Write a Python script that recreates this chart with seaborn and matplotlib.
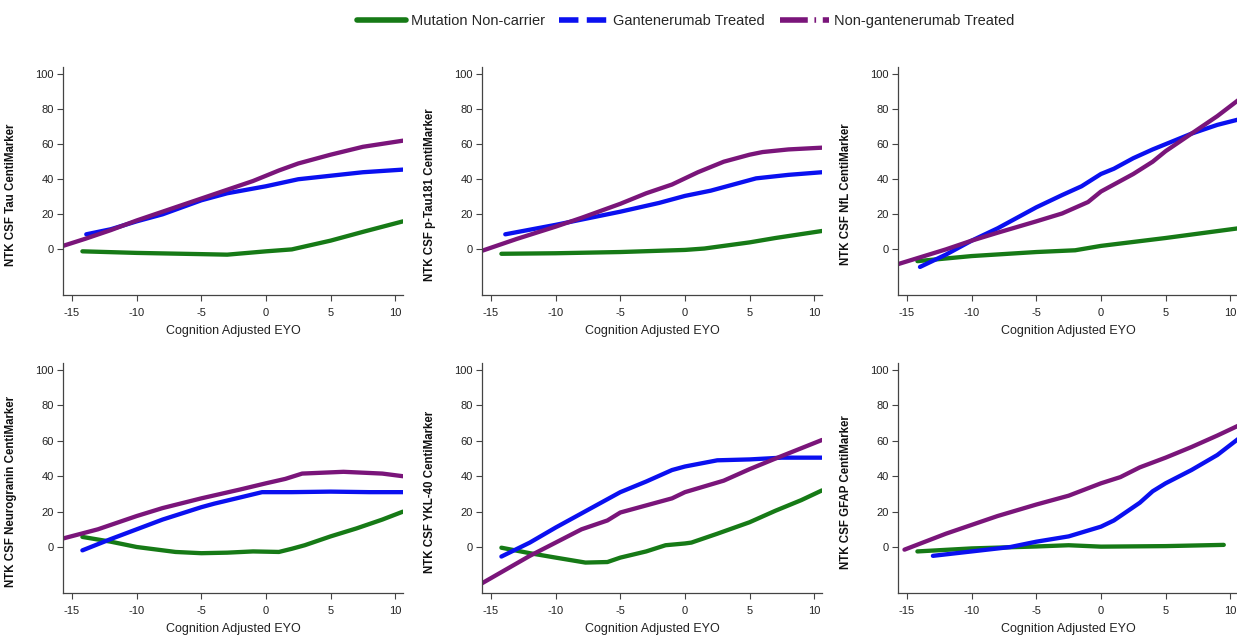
import matplotlib
matplotlib.use("Agg")
import matplotlib.pyplot as plt
from matplotlib.lines import Line2D
import seaborn as sns

sns.set_theme(style="ticks")
plt.rcParams["font.family"] = ["Liberation Sans", "DejaVu Sans"]
plt.rcParams["axes.unicode_minus"] = False  # 하이픈 형태의 마이너스

# ---- 데이터 ----
series_names = ["Mutation Non-carrier", "Gantenerumab Treated", "Non-gantenerumab Treated"]
series_colors = ["#167a16", "#0a10f0", "#7a157a"]

panel_labels = [
    "NTK CSF Tau CentiMarker",
    "NTK CSF p-Tau181 CentiMarker",
    "NTK CSF NfL CentiMarker",
    "NTK CSF Neurogranin CentiMarker",
    "NTK CSF YKL-40 CentiMarker",
    "NTK CSF GFAP CentiMarker",
]

# Tau
tau_nc_x = [-14.2, -10, -5, -3, 0, 2, 5, 7.5, 10.6]
tau_nc_y = [-1.1, -2, -2.7, -3, -1.1, 0, 5, 10, 16]
tau_gt_x = [-13.9, -12, -10, -8, -5, -3, 0, 2.5, 5, 7.5, 10.6]
tau_gt_y = [8.6, 11.5, 16, 20, 28, 32, 36, 40, 42, 44, 45.5]
tau_ng_x = [-15.7, -14, -12, -10, -8, -5, -3, -1, 0, 1, 2.5, 5, 7.5, 10.6]
tau_ng_y = [2, 6, 11, 16.5, 21.5, 29, 34, 39, 42, 45, 49, 54, 58.5, 62]

# p-Tau181
pt_nc_x = [-14.2, -10, -5, 0, 1.5, 3, 5, 7, 10.6]
pt_nc_y = [-2.5, -2.2, -1.5, -0.3, 0.5, 2, 4, 6.5, 10.5]
pt_gt_x = [-13.9, -10, -7, -5, -2, 0, 2, 4, 5.5, 8, 10.6]
pt_gt_y = [8.6, 14, 18.5, 21.5, 26.5, 30.5, 33.5, 37.5, 40.5, 42.5, 44]
pt_ng_x = [-15.7, -13, -10, -8, -5, -3, -1, 0, 1, 3, 5, 6, 8, 10.6]
pt_ng_y = [-0.8, 6, 13, 18, 26, 32, 37, 40.5, 44, 50, 54, 55.5, 57, 58]

# NfL
nfl_nc_x = [-14.2, -10, -5, -2, 0, 5, 10.6]
nfl_nc_y = [-6.7, -3.8, -1.5, -0.5, 2, 6.5, 12]
nfl_gt_x = [-14, -12, -10, -8, -5, -3, -1.5, 0, 1, 2.5, 4, 5, 7, 9, 10.6]
nfl_gt_y = [-10, -3, 5, 12, 24, 31, 36, 43, 46, 52, 57, 60, 66, 71, 74]
nfl_ng_x = [-15.7, -12, -10, -8, -5, -3, -1, 0, 2.5, 4, 5, 7, 9, 10.6]
nfl_ng_y = [-8.4, 0, 5, 9.5, 16, 20.5, 27, 33, 43, 50, 56, 66, 76, 85]

# Neurogranin
ngr_nc_x = [-14.2, -12, -10, -7, -5, -3, -1, 1, 2, 3, 5, 7, 9, 10.6]
ngr_nc_y = [5.7, 3, 0, -2.8, -3.5, -3.2, -2.5, -2.8, -1, 1, 6, 10.5, 15.5, 20]
ngr_gt_x = [-14.2, -12, -10, -8, -5, -4, -2, -0.3, 2, 5, 8, 10.6]
ngr_gt_y = [-1.9, 4.5, 10, 15.5, 22.5, 24.5, 28, 31, 31, 31.3, 31, 31]
ngr_ng_x = [-15.7, -13, -10, -8, -5, -2, 0, 1.5, 2.8, 6, 9, 10.6]
ngr_ng_y = [4.8, 10, 17.5, 22, 27.5, 32.5, 36, 38.5, 41.5, 42.5, 41.5, 40]

# YKL-40
ykl_nc_x = [-14.2, -12, -10, -7.7, -6, -5, -3, -1.5, 0, 0.5, 2.5, 5, 7, 9, 10.6]
ykl_nc_y = [-0.4, -3.5, -6, -8.8, -8.5, -6, -2.5, 1, 2, 2.5, 7.5, 14, 20.5, 26.5, 32]
ykl_gt_x = [-14.2, -12, -10, -8, -7, -5, -3, -1, 0, 2.5, 5, 7.5, 10.6]
ykl_gt_y = [-5.4, 2.5, 11, 19, 23, 31, 37, 43.5, 45.5, 49, 49.5, 50.5, 50.5]
ykl_ng_x = [-15.7, -12, -10, -8, -6, -5, -3, -1, 0, 3, 5, 7, 10.6]
ykl_ng_y = [-20.5, -5, 2.5, 10, 15, 19.5, 23.5, 27.5, 31, 37.5, 44, 50, 60.5]

# GFAP
gfap_nc_x = [-14.2, -10, -5, -2.5, 0, 5, 9.5]
gfap_nc_y = [-2.5, -0.8, 0.3, 1, 0.2, 0.5, 1.2]
gfap_gt_x = [-13, -10, -7, -5, -2.5, 0, 1, 2, 3, 4, 5, 7, 9, 10.6]
gfap_gt_y = [-5, -2.5, 0, 3, 6, 11.5, 15, 20, 25, 31.5, 36, 43.5, 52, 61]
gfap_ng_x = [-15.2, -12, -10, -8, -5, -2.5, 0, 1.5, 3, 5, 7, 9, 10.6]
gfap_ng_y = [-1.5, 7.5, 12.5, 17.5, 24, 29, 36, 39.5, 45, 50.5, 56.5, 63, 68.5]

panel_series = [
    [(tau_nc_x, tau_nc_y), (tau_gt_x, tau_gt_y), (tau_ng_x, tau_ng_y)],
    [(pt_nc_x, pt_nc_y), (pt_gt_x, pt_gt_y), (pt_ng_x, pt_ng_y)],
    [(nfl_nc_x, nfl_nc_y), (nfl_gt_x, nfl_gt_y), (nfl_ng_x, nfl_ng_y)],
    [(ngr_nc_x, ngr_nc_y), (ngr_gt_x, ngr_gt_y), (ngr_ng_x, ngr_ng_y)],
    [(ykl_nc_x, ykl_nc_y), (ykl_gt_x, ykl_gt_y), (ykl_ng_x, ykl_ng_y)],
    [(gfap_nc_x, gfap_nc_y), (gfap_gt_x, gfap_gt_y), (gfap_ng_x, gfap_ng_y)],
]

x_ticks = [-15, -10, -5, 0, 5, 10]
y_ticks = [0, 20, 40, 60, 80, 100]

# ---- 레이아웃 (픽셀 → 그림 비율) ----
W, H = 1237, 635
lefts = [63, 482, 898]
tops = [67, 363]
bottoms = [295, 593]
ax_w = 340

fig = plt.figure(figsize=(W / 100, H / 100), dpi=100)

for i in range(6):
    row, col = divmod(i, 3)
    ax_h = bottoms[row] - tops[row]
    rect = [lefts[col] / W, 1 - bottoms[row] / H, ax_w / W, ax_h / H]
    ax = fig.add_axes(rect)

    for (xs, ys), color in zip(panel_series[i], series_colors):
        sns.lineplot(x=xs, y=ys, ax=ax, color=color, linewidth=3.1,
                     sort=False, estimator=None, legend=False)

    ax.set_xlim(-15.7, 10.6)
    ax.set_ylim(-26, 104)
    ax.set_xticks(x_ticks)
    ax.set_yticks(y_ticks)
    ax.tick_params(axis="both", labelsize=8, length=4, width=0.8,
                   color="#444444", labelcolor="#222222", pad=2.5)
    ax.tick_params(axis="x", pad=5)
    for side in ["top", "right"]:
        ax.spines[side].set_visible(False)
    for side in ["left", "bottom"]:
        ax.spines[side].set_color("#444444")
        ax.spines[side].set_linewidth(0.9)

    ax.set_xlabel("Cognition Adjusted EYO", fontsize=9, color="#222222")
    ax.xaxis.set_label_coords(0.5, -30 / ax_h)
    ax.set_ylabel(panel_labels[i], fontsize=8.3, fontweight="bold", color="#111111")
    ax.yaxis.set_label_coords(-0.135, 0.44)

# 범례 (상단)
handles = [
    Line2D([], [], color=series_colors[0], linewidth=4),
    Line2D([], [], color=series_colors[1], linewidth=4, linestyle=(0, (3.5, 1.5))),
    Line2D([], [], color=series_colors[2], linewidth=4, linestyle=(0, (5, 1.2, 0.3, 1.2))),
]
fig.legend(handles, series_names, loc="upper center", bbox_to_anchor=(0.554, 0.998),
           ncol=3, frameon=False, fontsize=10.5, handlelength=3.4, handletextpad=0.3,
           columnspacing=1.0)

plt.savefig("out.png", dpi=100)
plt.close()
